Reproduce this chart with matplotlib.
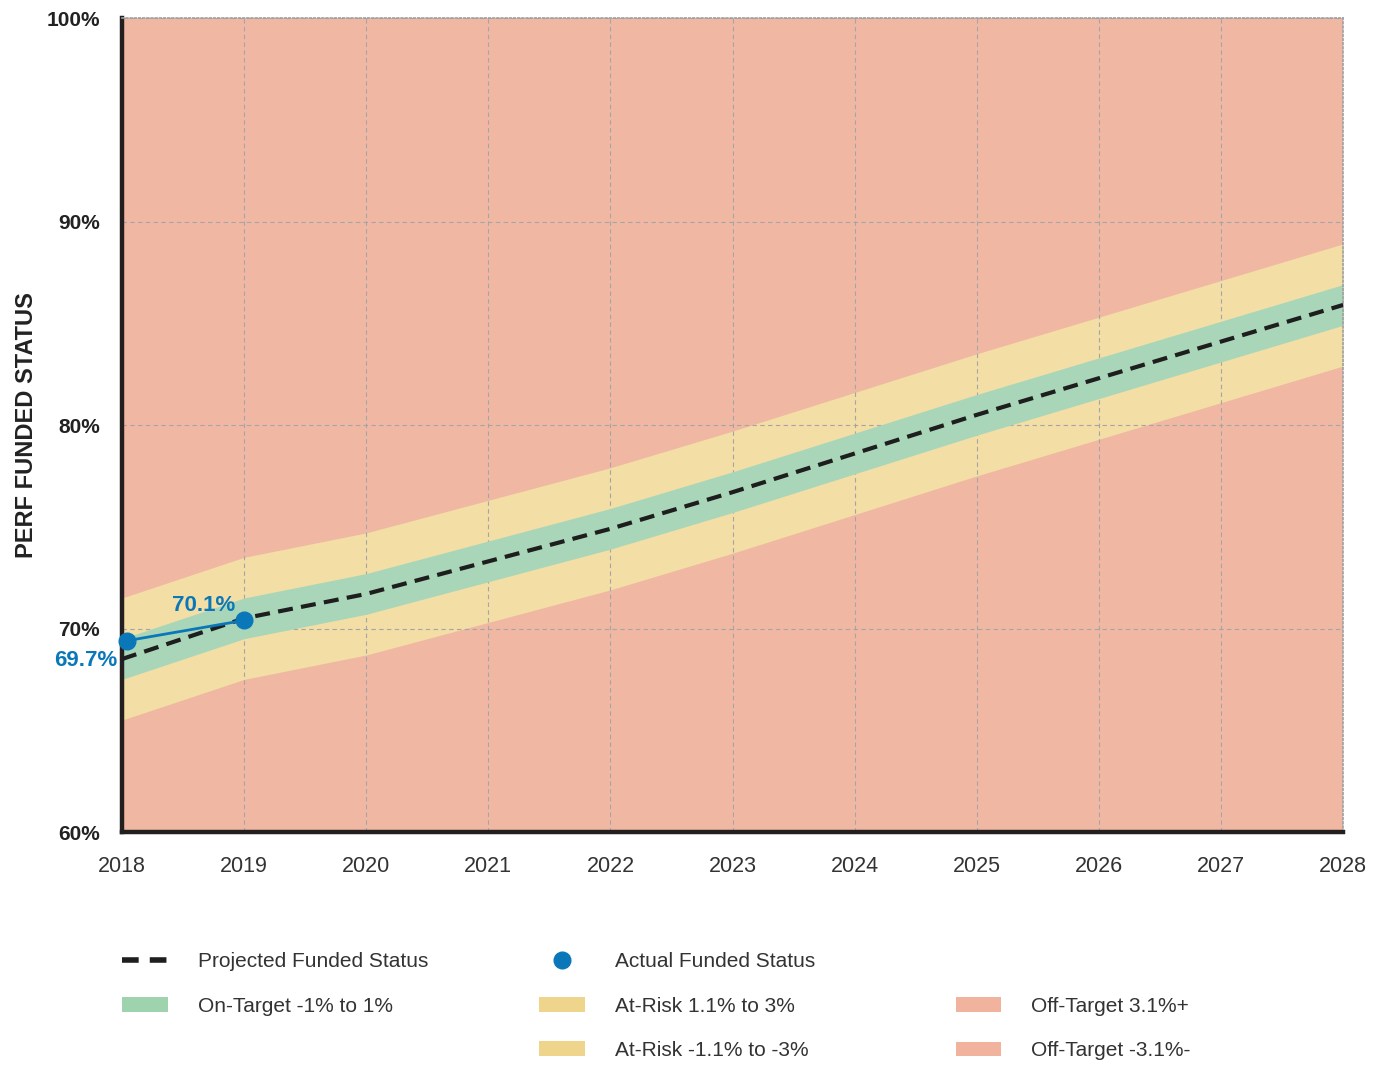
import matplotlib
matplotlib.use("Agg")
import matplotlib.pyplot as plt
from matplotlib.lines import Line2D
from matplotlib.patches import Patch

plt.rcParams['font.family'] = ['Liberation Sans Narrow', 'Liberation Sans', 'DejaVu Sans']

# ---------- DATOS ----------
years = [2018, 2019, 2020, 2021, 2022, 2023, 2024, 2025, 2026, 2027, 2028]
projected = [68.5, 70.5, 71.7, 73.3, 74.9, 76.7, 78.6, 80.5, 82.3, 84.1, 85.9]
on_target_hi = [69.5, 71.5, 72.7, 74.3, 75.9, 77.7, 79.6, 81.5, 83.3, 85.1, 86.9]
on_target_lo = [67.5, 69.5, 70.7, 72.3, 73.9, 75.7, 77.6, 79.5, 81.3, 83.1, 84.9]
at_risk_hi = [71.5, 73.5, 74.7, 76.3, 77.9, 79.7, 81.6, 83.5, 85.3, 87.1, 88.9]
at_risk_lo = [65.5, 67.5, 68.7, 70.3, 71.9, 73.7, 75.6, 77.5, 79.3, 81.1, 82.9]

actual_years = [2018.04, 2019]
actual_values = [69.4, 70.4]
actual_labels = ["69.7%", "70.1%"]

y_ticks = [60, 70, 80, 90, 100]
y_tick_labels = ["60%", "70%", "80%", "90%", "100%"]

# ---------- COLORES ----------
c_off = "#f0b8a3"
c_risk = "#f3dea6"
c_on = "#a9d6b9"
c_blue = "#0a78b8"
c_legend_risk = "#efd58c"
c_legend_off = "#f1b29e"
c_legend_on = "#9fd3ad"

fig = plt.figure(figsize=(13.79, 10.66), dpi=100)
ax = fig.add_axes([0.0885, 0.2195, 0.8855, 0.7636])

ax.set_facecolor(c_off)
ax.fill_between(years, at_risk_lo, at_risk_hi, color=c_risk, lw=0, zorder=1)
ax.fill_between(years, on_target_lo, on_target_hi, color=c_on, lw=0, zorder=2)

ax.grid(True, color="#a5a5a5", lw=0.8, linestyle=(0, (4, 3)))
for gl in ax.get_xgridlines() + ax.get_ygridlines():
    gl.set_zorder(3)

ax.plot(years, projected, color="#1e1e1e", lw=3, dashes=(3.6, 2.0), zorder=4)
ax.plot(actual_years, actual_values, color=c_blue, lw=2, marker="o",
        markersize=12, zorder=5, clip_on=False)

# etiquetas de los puntos reales
ax.annotate(actual_labels[0], (actual_years[0], actual_values[0]),
            xytext=(-30, -14), textcoords="offset points", ha="center", va="center",
            color=c_blue, fontsize=16, fontweight="bold", annotation_clip=False)
ax.annotate(actual_labels[1], (actual_years[1], actual_values[1]),
            xytext=(-29, 11), textcoords="offset points", ha="center", va="center",
            color=c_blue, fontsize=16, fontweight="bold")

ax.set_xlim(2018, 2028)
ax.set_ylim(60, 100)
ax.set_xticks(years)
ax.set_xticklabels([str(y) for y in years], fontsize=15.5, color="#333333")
ax.set_yticks(y_ticks)
ax.set_yticklabels(y_tick_labels, fontsize=15, fontweight="bold", color="#222222")
ax.tick_params(axis="both", length=0)
ax.tick_params(axis="y", pad=16)
ax.tick_params(axis="x", pad=17)

for s in ["left", "bottom"]:
    ax.spines[s].set_linewidth(3.2)
    ax.spines[s].set_color("#231f1e")
for s in ["top", "right"]:
    ax.spines[s].set_linewidth(1.2)
    ax.spines[s].set_color("#a0a0a0")
    ax.spines[s].set_linestyle((0, (1, 1.5)))

ax.set_ylabel("PERF FUNDED STATUS", fontsize=17, fontweight="bold", color="#222222", labelpad=6)

# ---------- LEYENDA ----------
leg_kw = dict(loc="upper left", frameon=False, fontsize=15, handlelength=2.2,
              handletextpad=1.44, labelspacing=1.22, borderpad=0, borderaxespad=0,
              labelcolor="#333333")

h1 = [Line2D([], [], color="#1e1e1e", lw=4, dashes=(3, 2)),
      Patch(facecolor=c_legend_on, edgecolor="none")]
l1 = ["Projected Funded Status", "On-Target -1% to 1%"]
leg1 = fig.legend(h1, l1, bbox_to_anchor=(0.0885, 0.1068), **leg_kw)

h2 = [Line2D([], [], color=c_blue, lw=0, marker="o", markersize=12),
      Patch(facecolor=c_legend_risk, edgecolor="none"),
      Patch(facecolor=c_legend_risk, edgecolor="none")]
l2 = ["Actual Funded Status", "At-Risk 1.1% to 3%", "At-Risk -1.1% to -3%"]
leg2 = fig.legend(h2, l2, bbox_to_anchor=(0.391, 0.1068), **leg_kw)

h3 = [Patch(facecolor=c_legend_off, edgecolor="none"),
      Patch(facecolor=c_legend_off, edgecolor="none")]
l3 = ["Off-Target 3.1%+", "Off-Target -3.1%-"]
leg3 = fig.legend(h3, l3, bbox_to_anchor=(0.693, 0.0648), **leg_kw)

fig.savefig("out.png", dpi=100)
